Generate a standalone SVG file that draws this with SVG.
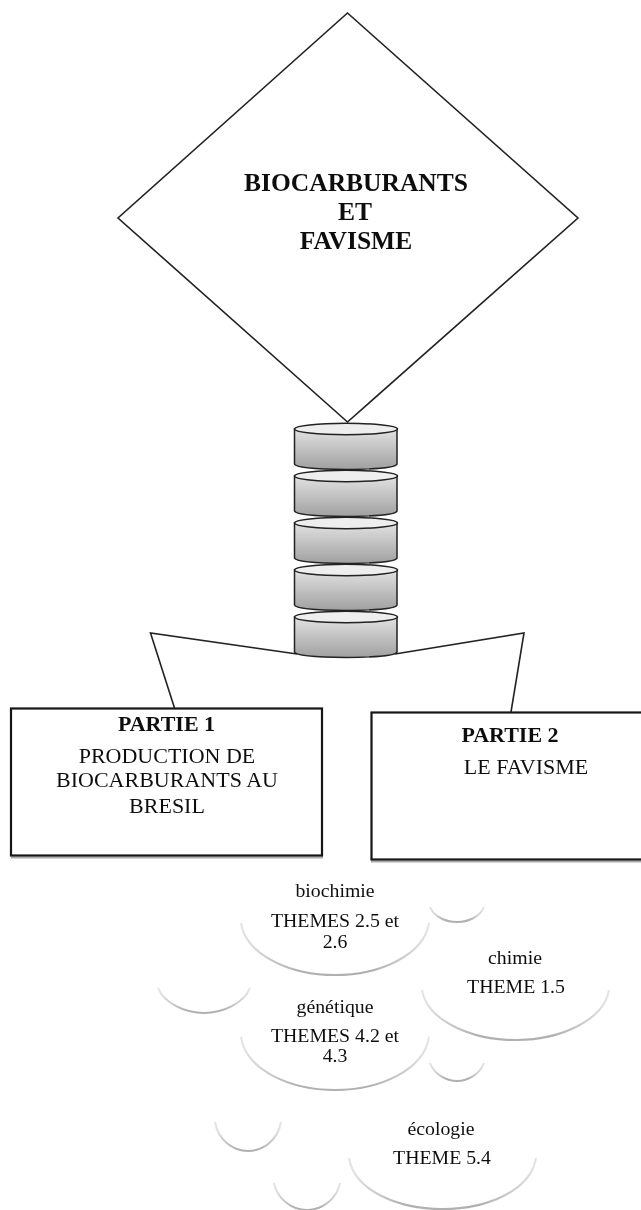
<svg xmlns="http://www.w3.org/2000/svg" width="641" height="1210" viewBox="0 0 641 1210">
<style>
.t{font-family:"Liberation Serif","Times New Roman",serif;fill:#111;text-anchor:middle;font-size:22px}
.b{font-weight:bold}
.h{font-size:25.500px}
.c{font-size:19.800px}
.s{fill:#fff;stroke:#222;stroke-width:1.6}
.l{fill:none;stroke:#222;stroke-width:1.6}
.box{fill:#fff;stroke:#151515;stroke-width:2.200}
.shade{fill:none;stroke:#aaa;stroke-width:2}
.arc{fill:none;stroke:url(#fade);stroke-width:2}
.body{fill:url(#g);stroke:#222;stroke-width:1.5}
.top{fill:#eee;stroke:#222;stroke-width:1.5}
.soft{filter:url(#soft)}
</style>
<defs>
<filter id="soft" x="-5%" y="-5%" width="110%" height="110%"><feGaussianBlur stdDeviation="0.4"/></filter>
<linearGradient id="g" x1="0" y1="0" x2="0" y2="1"><stop offset="0" stop-color="#e2e2e2"/><stop offset="1" stop-color="#a0a0a0"/></linearGradient>
<linearGradient id="fade" x1="0" y1="0" x2="1" y2="0"><stop offset="0" stop-color="#e4e4e4"/><stop offset="0.3" stop-color="#b0b0b0"/><stop offset="0.7" stop-color="#b0b0b0"/><stop offset="1" stop-color="#e4e4e4"/></linearGradient>
<g id="cyl">
<path class="body" d="M294.500 429V464Q296 469 346 469.500Q396 469 397 464V429Z"/>
<ellipse class="top" cx="346" cy="429" rx="51.500" ry="5.700"/>
</g>
</defs>
<g class="soft">
<g id="connectors">
<path class="l" d="M297 654L150.500 633L174.500 708M395 654L524 633L511 712"/>
</g>
<g id="diamond">
<polygon class="s" points="347.500,13 578,218 347.500,422 118,218"/>
<text class="t b h" x="356" y="191">BIOCARBURANTS</text>
<text class="t b h" x="355" y="220">ET</text>
<text class="t b h" x="356" y="249">FAVISME</text>
</g>
<g id="stack">
<use href="#cyl"/>
<use href="#cyl" y="47"/>
<use href="#cyl" y="94"/>
<use href="#cyl" y="141"/>
<use href="#cyl" y="188"/>
</g>
<g id="partie1">
<path class="shade" d="M11 857.500H323"/>
<rect class="box" x="11" y="708.500" width="311" height="147"/>
<text class="t b" x="166.500" y="731">PARTIE 1</text>
<text class="t" x="167" y="763">PRODUCTION DE</text>
<text class="t" x="167" y="787">BIOCARBURANTS AU</text>
<text class="t" x="167" y="813">BRESIL</text>
</g>
<g id="partie2">
<path class="shade" d="M371 861.500H641"/>
<rect class="box" x="371.500" y="712.500" width="272" height="147"/>
<text class="t b" x="510" y="742">PARTIE 2</text>
<text class="t" x="526" y="774">LE FAVISME</text>
</g>
<g id="biochimie">
<path class="arc" d="M241 923C246 955 290 975 335 975C380 975 424 955 429 923"/>
<text class="t c" x="335" y="897">biochimie</text>
<text class="t c" x="335" y="927">THEMES 2.5 et</text>
<text class="t c" x="335" y="948">2.6</text>
</g>
<g id="chimie">
<path class="arc" d="M422 990C427 1020 470 1040 515.500 1040C561 1040 604 1020 609 990"/>
<text class="t c" x="515" y="964">chimie</text>
<text class="t c" x="516" y="993">THEME 1.5</text>
</g>
<g id="genetique">
<path class="arc" d="M241 1037C246 1070 290 1090 335 1090C380 1090 424 1070 429 1037"/>
<text class="t c" x="335" y="1013">génétique</text>
<text class="t c" x="335" y="1042">THEMES 4.2 et</text>
<text class="t c" x="335" y="1062">4.3</text>
</g>
<g id="ecologie">
<path class="arc" d="M349 1158C354 1190 397 1209 442.500 1209C488 1209 531 1190 536 1158"/>
<text class="t c" x="441" y="1135">écologie</text>
<text class="t c" x="442" y="1164">THEME 5.4</text>
</g>
<g id="bubbles">
<path class="arc" d="M430 907C434 917 446 922 457 922C468 922 480 917 484 907"/>
<path class="arc" d="M158 988C164 1003 185 1013 204 1013C223 1013 244 1003 250 988"/>
<path class="arc" d="M430 1063C434 1074 446 1081 457 1081C468 1081 480 1074 484 1063"/>
<path class="arc" d="M215 1122C218 1140 233 1151 248 1151C263 1151 278 1140 281 1122"/>
<path class="arc" d="M274 1183C277 1199 292 1210 307 1210C322 1210 337 1199 340 1183"/>
</g>
</g>
</svg>
